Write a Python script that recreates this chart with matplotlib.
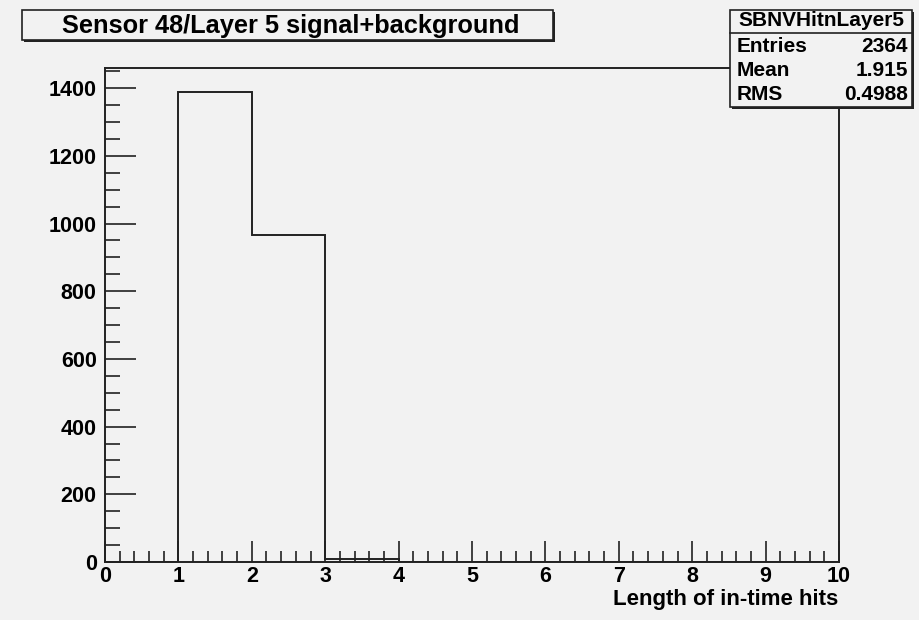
import numpy as np
import matplotlib.pyplot as plt
from matplotlib.patches import Rectangle
from matplotlib.ticker import MultipleLocator

# histogram contents
edges = [0, 1, 2, 3, 4, 5, 6, 7, 8, 9, 10]
counts = [0, 1390, 965, 9, 0, 0, 0, 0, 0, 0]

title = "Sensor 48/Layer 5 signal+background"
xlabel = "Length of in-time hits"
stat_name = "SBNVHitnLayer5"
stat_rows = [("Entries", "2364"), ("Mean", "1.915"), ("RMS", "0.4988")]

W, H = 920, 620
bg = '#f2f2f2'
plt.rcParams['font.family'] = ['Liberation Sans', 'DejaVu Sans']
plt.rcParams['font.weight'] = 'bold'

fig = plt.figure(figsize=(W / 100, H / 100), dpi=100, facecolor=bg)


def fx(px):
    return px / W


def fy(py):
    return 1 - py / H


ax = fig.add_axes([fx(105), fy(562), fx(839) - fx(105), fy(68) - fy(562)])
ax.set_facecolor(bg)
ax.stairs(counts, edges, color='#222222', linewidth=1.4)
ax.set_xlim(0, 10)
ax.set_ylim(0, 1.05 * max(counts))

ax.xaxis.set_major_locator(MultipleLocator(1))
ax.xaxis.set_minor_locator(MultipleLocator(0.2))
ax.yaxis.set_major_locator(MultipleLocator(200))
ax.yaxis.set_minor_locator(MultipleLocator(50))
ax.tick_params(which='both', direction='in', top=False, right=False,
               width=1.2, color='#222222', labelsize=15.5)
ax.tick_params(axis='x', which='major', length=15, pad=3)
ax.tick_params(axis='x', which='minor', length=8)
ax.tick_params(axis='y', which='major', length=22, pad=6)
ax.tick_params(axis='y', which='minor', length=11)
for lab in ax.get_xticklabels() + ax.get_yticklabels():
    lab.set_fontweight('bold')
for s in ax.spines.values():
    s.set_linewidth(1.4)
    s.set_color('#222222')

fig.text(fx(838), fy(599), xlabel, ha='right', va='center',
         fontsize=16, fontweight='bold')


def box(x0, y0, x1, y1):
    fig.patches.append(Rectangle((fx(x0 + 2), fy(y1 + 2)), fx(x1 - x0), fy(y0) - fy(y1),
                                 transform=fig.transFigure, facecolor='#222222',
                                 edgecolor='none', zorder=5))
    fig.patches.append(Rectangle((fx(x0), fy(y1)), fx(x1 - x0), fy(y0) - fy(y1),
                                 transform=fig.transFigure, facecolor=bg,
                                 edgecolor='#222222', linewidth=1.2, zorder=6))


# title box
box(22, 10, 553, 40)
fig.text(fx(291), fy(26), title, ha='center', va='center', fontsize=18.3,
         fontweight='bold', zorder=7)

# stats box
box(730, 10, 912, 107)
fig.add_artist(plt.Line2D([fx(730), fx(912)], [fy(33), fy(33)],
                          transform=fig.transFigure, color='#222222', lw=1.2, zorder=7))
fig.text(fx(821), fy(21), stat_name, ha='center', va='center', fontsize=15,
         fontweight='bold', zorder=7)
for i, (k, v) in enumerate(stat_rows):
    y = 46 + i * 24.5
    fig.text(fx(737), fy(y), k, ha='left', va='center', fontsize=15,
             fontweight='bold', zorder=7)
    fig.text(fx(908), fy(y), v, ha='right', va='center', fontsize=15,
             fontweight='bold', zorder=7)

fig.savefig('out.png', dpi=100, facecolor=bg)
